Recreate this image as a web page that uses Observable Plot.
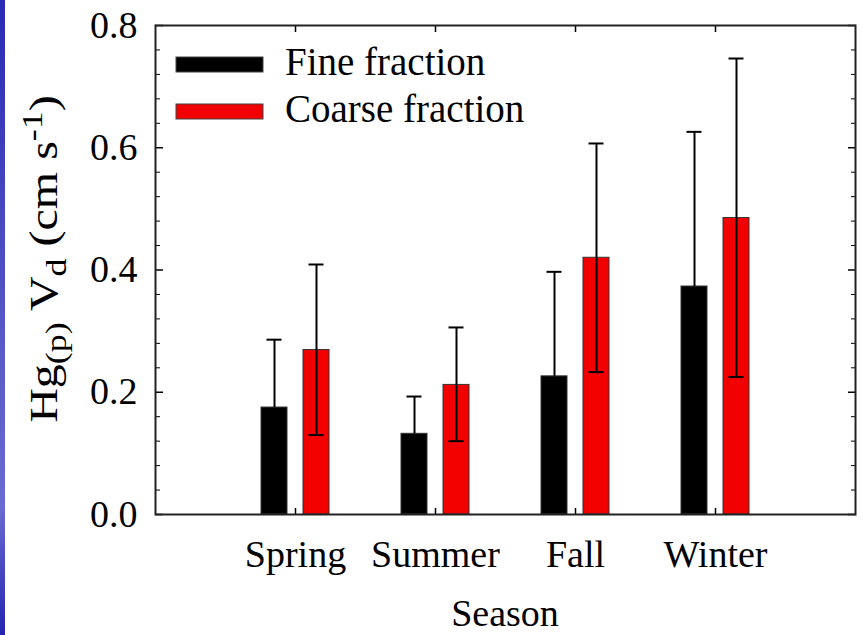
<!DOCTYPE html>
<html>
<head>
<meta charset="utf-8">
<script src="https://cdn.jsdelivr.net/npm/d3@7"></script>
<script src="https://cdn.jsdelivr.net/npm/@observablehq/plot@0.6"></script>
<style>
  html, body { margin: 0; padding: 0; background: #fff; }
  #chart { width: 863px; height: 635px; overflow: hidden; }
</style>
</head>
<body>
<div id="chart"></div>
<script>
// ---- data ----
const seasons = ["Spring", "Summer", "Fall", "Winter"];
const fineMean = [0.175, 0.132, 0.226, 0.373];
const fineUpper = [0.286, 0.193, 0.397, 0.626];
const coarseMean = [0.269, 0.212, 0.420, 0.485];
const coarseLower = [0.130, 0.120, 0.233, 0.225];
const coarseUpper = [0.409, 0.306, 0.607, 0.746];
const yMajorTicks = [0.0, 0.2, 0.4, 0.6, 0.8];
const yMinorTicks = [0.04, 0.08, 0.12, 0.16, 0.24, 0.28, 0.32, 0.36, 0.44, 0.48, 0.52, 0.56, 0.64, 0.68, 0.72, 0.76];
const seriesNames = ["Fine fraction", "Coarse fraction"];
const seriesColors = ["#000000", "#f20000"];
const xTitle = "Season";

const rows = seasons.map((s, i) => ({
  season: s,
  fine: fineMean[i], fineHi: fineUpper[i],
  coarse: coarseMean[i], coarseLo: coarseLower[i], coarseHi: coarseUpper[i]
}));

const off = 21;
const barInset = 57;
const capInset = 62.5;

const chart = Plot.plot({
  width: 863,
  height: 635,
  marginLeft: 155,
  marginRight: 8,
  marginTop: 25,
  marginBottom: 121,
  style: { fontFamily: "'Liberation Serif', 'Times New Roman', serif", fontSize: "38px", color: "#000", background: "transparent" },
  x: { type: "band", domain: seasons, paddingInner: 0, paddingOuter: 0.5, label: null },
  y: { domain: [0, 0.8], label: null },
  marks: [
    Plot.barY(rows, { x: "season", y: "fine", fill: seriesColors[0], stroke: "#333", strokeWidth: 1, insetLeft: barInset, insetRight: barInset, dx: -off }),
    Plot.barY(rows, { x: "season", y: "coarse", fill: seriesColors[1], stroke: "#333", strokeWidth: 1, insetLeft: barInset, insetRight: barInset, dx: off }),
    Plot.ruleX(rows, { x: "season", y1: "fine", y2: "fineHi", dx: -off, stroke: "#000", strokeWidth: 2 }),
    Plot.tickY(rows, { x: "season", y: "fineHi", dx: -off, insetLeft: capInset, insetRight: capInset, stroke: "#000", strokeWidth: 2 }),
    Plot.ruleX(rows, { x: "season", y1: "coarseLo", y2: "coarseHi", dx: off, stroke: "#000", strokeWidth: 2 }),
    Plot.tickY(rows, { x: "season", y: "coarseLo", dx: off, insetLeft: capInset, insetRight: capInset, stroke: "#000", strokeWidth: 2 }),
    Plot.tickY(rows, { x: "season", y: "coarseHi", dx: off, insetLeft: capInset, insetRight: capInset, stroke: "#000", strokeWidth: 2 }),
    Plot.axisY({ ticks: yMajorTicks, tickFormat: d3.format(".1f"), tickSize: -8, tickPadding: 26, strokeWidth: 1.5, label: null }),
    Plot.axisY({ ticks: yMinorTicks, tickSize: -5, fill: "none", label: null }),
    Plot.axisY({ anchor: "right", ticks: yMajorTicks, tickSize: -8, strokeWidth: 1.5, fill: "none", label: null }),
    Plot.axisY({ anchor: "right", ticks: yMinorTicks, tickSize: -5, fill: "none", label: null }),
    Plot.axisX({ anchor: "bottom", tickSize: -6, tickPadding: 32, strokeWidth: 1.5, label: null }),
    Plot.axisX({ anchor: "top", tickSize: -6, strokeWidth: 1.5, fill: "none", label: null }),
    Plot.frame({ stroke: "#222", strokeWidth: 2 })
  ]
});

const svg = d3.select(chart);
const font = "'Liberation Serif', 'Times New Roman', serif";

// left blue strip (slide edge)
const defs = svg.insert("defs", ":first-child");
const grad = defs.append("linearGradient").attr("id", "blueStrip").attr("x1", 0).attr("x2", 0).attr("y1", 0).attr("y2", 1);
grad.append("stop").attr("offset", "0").attr("stop-color", "#2a2ab4");
grad.append("stop").attr("offset", "0.55").attr("stop-color", "#5a5ac8");
grad.append("stop").attr("offset", "0.8").attr("stop-color", "#6a6ad2");
grad.append("stop").attr("offset", "1").attr("stop-color", "#2424b0");
svg.insert("rect", "defs + *").attr("x", 0).attr("y", 0).attr("width", 5).attr("height", 635).attr("fill", "url(#blueStrip)");

// y-axis title with sub/superscripts (stretched along its length like the reference)
const yt = svg.append("text")
  .attr("transform", "translate(57,259) rotate(-90) scale(1.2,1)")
  .attr("text-anchor", "middle")
  .attr("font-family", font)
  .attr("font-size", 40)
  .attr("fill", "#000");
yt.append("tspan").text("Hg");
yt.append("tspan").attr("font-size", 30).attr("dy", 9).text("(p)");
yt.append("tspan").attr("dy", -9).text(" V");
yt.append("tspan").attr("font-size", 30).attr("dy", 9).text("d");
yt.append("tspan").attr("dy", -9).text(" (cm s");
yt.append("tspan").attr("font-size", 30).attr("dy", -15).text("-1");
yt.append("tspan").attr("dy", 15).text(")");

// x-axis title
svg.append("text")
  .attr("x", 505).attr("y", 626)
  .attr("text-anchor", "middle")
  .attr("font-family", font)
  .attr("font-size", 38)
  .attr("fill", "#000")
  .text(xTitle);

// legend
const legendY = [57, 104];
seriesNames.forEach((name, i) => {
  svg.append("rect")
    .attr("x", 176).attr("y", legendY[i]).attr("width", 87).attr("height", 15)
    .attr("fill", seriesColors[i]).attr("stroke", "#444").attr("stroke-width", 1);
  svg.append("text")
    .attr("x", 285).attr("y", legendY[i] + 18)
    .attr("text-anchor", "start")
    .attr("font-family", font)
    .attr("font-size", 39)
    .attr("fill", "#000")
    .text(name);
});

document.getElementById("chart").appendChild(chart);
</script>
</body>
</html>
